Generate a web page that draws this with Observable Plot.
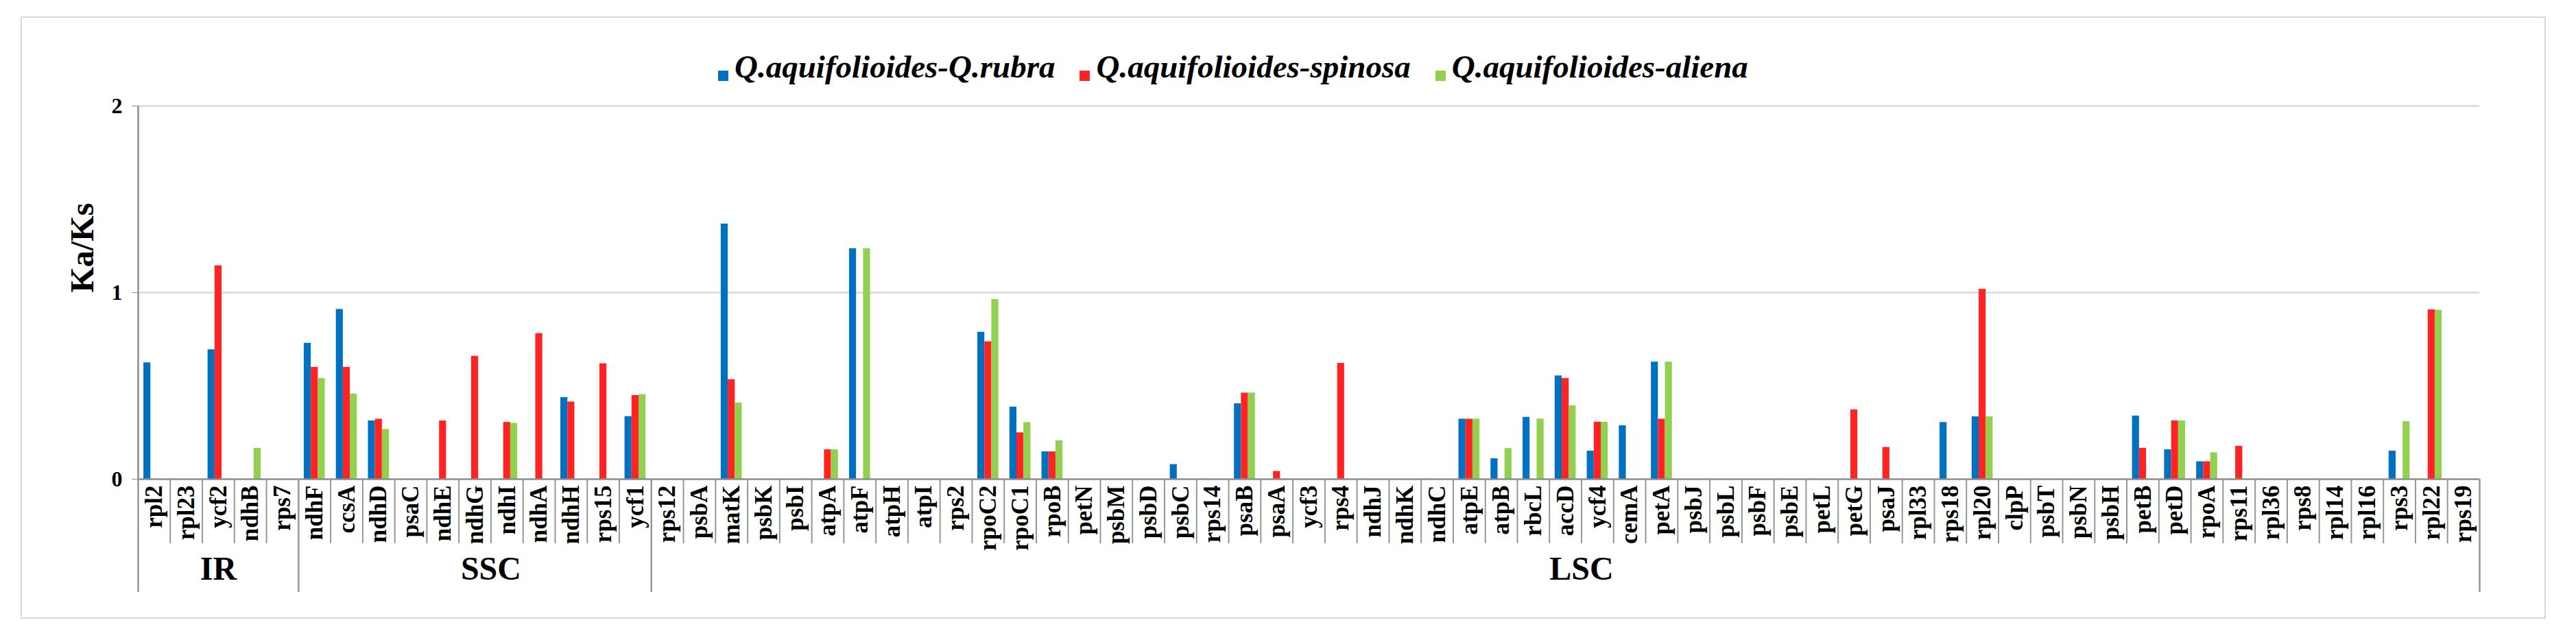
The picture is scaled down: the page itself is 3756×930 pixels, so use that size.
<!DOCTYPE html>
<html>
<head>
<meta charset="utf-8">
<script src="https://cdn.jsdelivr.net/npm/d3@7"></script>
<script src="https://cdn.jsdelivr.net/npm/@observablehq/plot@0.6"></script>
<style>
  html, body { margin: 0; padding: 0; background: #fff; width: 3756px; height: 930px; overflow: hidden; }
  #frame { position: absolute; left: 30px; top: 24px; width: 3682px; height: 878px; box-sizing: border-box; border: 2px solid #d9d9d9; }
  #legend { position: absolute; left: 1047px; top: 74px; display: flex; gap: 36px;
            font-family: "Liberation Serif", "Times New Roman", serif; font-style: italic; font-weight: bold;
            font-size: 47px; line-height: 47px; color: #000; white-space: nowrap; }
  #legend .item { display: flex; align-items: flex-start; }
  #legend .sw { width: 15px; height: 15px; margin-top: 29px; margin-right: 9px; }
  #chart { position: absolute; left: 0; top: 130px; }
</style>
</head>
<body>
<div id="frame"></div>
<div id="legend"></div>
<div id="chart"></div>
<script>
// ---------------- data ----------------
const genes = [
  // IR
  "rpl2", "rpl23", "ycf2", "ndhB", "rps7",
  // SSC
  "ndhF", "ccsA", "ndhD", "psaC", "ndhE", "ndhG", "ndhI", "ndhA", "ndhH", "rps15", "ycf1",
  // LSC
  "rps12", "psbA", "matK", "psbK", "psbI", "atpA", "atpF", "atpH", "atpI", "rps2",
  "rpoC2", "rpoC1", "rpoB", "petN", "psbM", "psbD", "psbC", "rps14", "psaB", "psaA",
  "ycf3", "rps4", "ndhJ", "ndhK", "ndhC", "atpE", "atpB", "rbcL", "accD", "ycf4",
  "cemA", "petA", "psbJ", "psbL", "psbF", "psbE", "petL", "petG", "psaJ", "rpl33",
  "rps18", "rpl20", "clpP", "psbT", "psbN", "psbH", "petB", "petD", "rpoA", "rps11",
  "rpl36", "rps8", "rpl14", "rpl16", "rps3", "rpl22", "rps19"
];

const groupNames = ["IR", "SSC", "LSC"];
const groupSizes = [5, 11, 57];

const seriesNames = ["Q.aquifolioides-Q.rubra", "Q.aquifolioides-spinosa", "Q.aquifolioides-aliena"];
const seriesColors = ["#0070C0", "#FF2323", "#92D050"];

const rubra = [
  0.624, null, 0.694, null, null,
  0.729, 0.910, 0.313, null, null, null, null, null, 0.438, null, 0.336,
  null, null, 1.368, null, null, null, 1.236, null, null, null,
  0.788, 0.387, 0.147, null, null, null, 0.079, null, 0.405, null,
  null, null, null, null, null, 0.322, 0.110, 0.332, 0.554, 0.151,
  0.287, 0.628, null, null, null, null, null, null, null, null,
  0.304, 0.335, null, null, null, null, 0.339, 0.158, 0.094, null,
  null, null, null, null, 0.151, null, null
];

const spinosa = [
  null, null, 1.144, null, null,
  0.600, 0.600, 0.322, null, 0.313, 0.659, 0.305, 0.781, 0.414, 0.619, 0.449,
  null, null, 0.534, null, null, 0.158, null, null, null, null,
  0.737, 0.249, 0.147, null, null, null, null, null, 0.462, 0.042,
  null, 0.621, null, null, null, 0.322, null, null, 0.540, 0.306,
  null, 0.322, null, null, null, null, null, 0.372, 0.171, null,
  null, 1.018, null, null, null, null, 0.166, 0.313, 0.094, 0.177,
  null, null, null, null, null, 0.908, null
];

const aliena = [
  null, null, null, 0.166, null,
  0.540, 0.457, 0.267, null, null, null, 0.300, null, null, null, 0.454,
  null, null, 0.409, null, null, 0.158, 1.236, null, null, null,
  0.963, 0.304, 0.206, null, null, null, null, null, 0.462, null,
  null, null, null, null, null, 0.322, 0.165, 0.323, 0.394, 0.306,
  null, 0.628, null, null, null, null, null, null, null, null,
  null, 0.335, null, null, null, null, null, 0.313, 0.142, null,
  null, null, null, null, 0.309, 0.906, null
];

const seriesValues = [rubra, spinosa, aliena];
const yTicks = [0, 1, 2];
const yLabel = "Ka/Ks";

// ---------------- legend ----------------
const legend = d3.select("#legend");
seriesNames.forEach((name, k) => {
  const item = legend.append("div").attr("class", "item");
  item.append("div").attr("class", "sw").style("background", seriesColors[k]);
  item.append("span").text(name);
});

// ---------------- layout ----------------
const W = 3756, H = 770;
const mL = 201, mR = 141, mT = 24, mB = 202;
const bw = (W - mL - mR) / genes.length;
const barW = 10.2;
const inset = (bw - barW) / 2;
const pxPerUnit = (H - mT - mB) / (yTicks[yTicks.length - 1] - yTicks[0]);
const catDepth = 94 / pxPerUnit;
const grpDepth = 165 / pxPerUnit;

// group starts
const groupStarts = [];
groupSizes.reduce((acc, n) => { groupStarts.push(acc); return acc + n; }, 0);
const groupStartGenes = groupStarts.map(i => genes[i]);
const innerGenes = genes.filter((g, i) => !groupStarts.includes(i));
const lastGene = genes[genes.length - 1];

const labelCentered = [{name: groupNames[0], gene: genes[groupStarts[0] + Math.floor(groupSizes[0] / 2)]}];
const labelEdge = groupNames.slice(1).map((name, j) => ({
  name, gene: genes[groupStarts[j + 1] + Math.ceil(groupSizes[j + 1] / 2)]
}));

const dividerColor = "#969696";
const font = "bold";

const barMarks = seriesValues.map((vals, k) =>
  Plot.barY(
    genes.map((g, i) => ({gene: g, value: vals[i]})).filter(d => d.value != null),
    {x: "gene", y: "value", fill: seriesColors[k], insetLeft: inset, insetRight: inset, dx: (k - 1) * barW}
  )
);

const chart = Plot.plot({
  width: W,
  height: H,
  marginLeft: mL,
  marginRight: mR,
  marginTop: mT,
  marginBottom: mB,
  style: {fontFamily: '"Liberation Serif", "Times New Roman", serif', background: "transparent", overflow: "visible"},
  x: {type: "band", domain: genes, padding: 0},
  y: {domain: [yTicks[0], yTicks[yTicks.length - 1]]},
  marks: [
    Plot.gridY(yTicks.slice(1), {stroke: "#d9d9d9", strokeOpacity: 1, strokeWidth: 2.5}),
    ...barMarks,
    Plot.ruleY([0], {stroke: "#8c8c8c", strokeWidth: 2.5}),
    // y-axis line
    Plot.ruleX([genes[0]], {x: d => d, y1: yTicks[0], y2: yTicks[yTicks.length - 1], dx: -bw / 2, stroke: "#8c8c8c", strokeWidth: 2.5}),
    // category dividers
    Plot.ruleX(innerGenes, {x: d => d, y1: 0, y2: -catDepth, dx: -bw / 2, stroke: dividerColor, strokeWidth: 2}),
    // group dividers
    Plot.ruleX(groupStartGenes, {x: d => d, y1: 0, y2: -grpDepth, dx: -bw / 2, stroke: dividerColor, strokeWidth: 2.5}),
    Plot.ruleX([lastGene], {x: d => d, y1: 0, y2: -grpDepth, dx: bw / 2, stroke: dividerColor, strokeWidth: 2.5}),
    Plot.axisY({ticks: yTicks, tickSize: 9, tickPadding: 14, fontSize: 32, fontWeight: font, stroke: "#8c8c8c", fill: "#000", label: null, tickFormat: d3.format("d")}),
    Plot.axisX({tickRotate: -90, tickSize: 0, tickPadding: 9, fontSize: 35, fontWeight: font, fill: "#000", label: null}),
    Plot.text([yLabel], {x: null, y: null, text: d => d, frameAnchor: "left", rotate: -90, dx: -81, fontSize: 48, fontWeight: font, fill: "#000"}),
    Plot.text(labelCentered, {x: "gene", text: "name", frameAnchor: "bottom", dy: 146, fontSize: 48, fontWeight: font, fill: "#000"}),
    Plot.text(labelEdge, {x: "gene", text: "name", frameAnchor: "bottom", dy: 146, dx: -bw / 2, fontSize: 48, fontWeight: font, fill: "#000"})
  ]
});
document.getElementById("chart").appendChild(chart);
</script>
</body>
</html>
